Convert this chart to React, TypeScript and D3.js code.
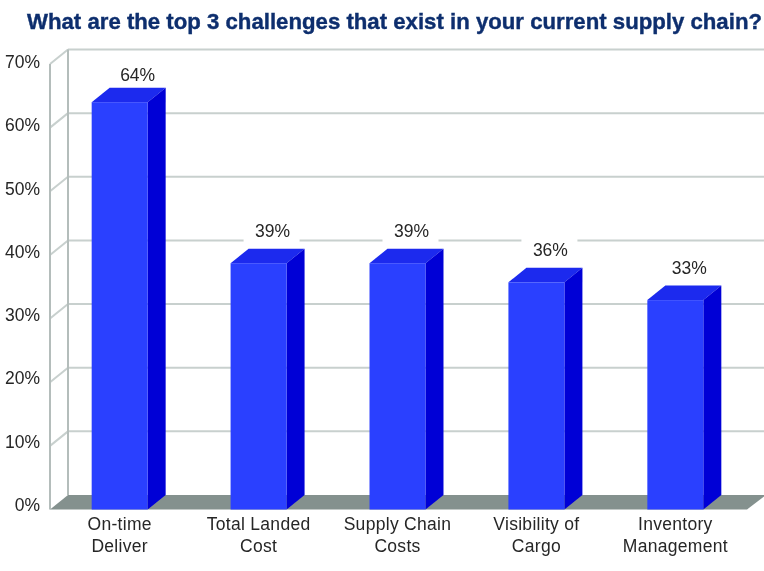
import { format, line, scaleBand, scaleLinear } from "d3";

const categories = [
  ["On-time", "Deliver"],
  ["Total Landed", "Cost"],
  ["Supply Chain", "Costs"],
  ["Visibility of", "Cargo"],
  ["Inventory", "Management"],
];
const values = [64, 38.7, 38.7, 35.7, 32.9];
const ticks = [0, 10, 20, 30, 40, 50, 60, 70];
const titleText = "What are the top 3 challenges that exist in your current supply chain?";

const width = 764;
const height = 571;
const depthX = 18;
const depthY = -14.5;
const font = "'Liberation Sans', Arial, sans-serif";
const textColor = "#262626";

export default function App() {
  const x = scaleBand<number>()
    .domain(values.map((_, i) => i))
    .range([50, 745])
    .paddingInner(0.597)
    .paddingOuter(0.3);
  const y = scaleLinear().domain([0, 70]).range([509.5, 64]);
  // the tick labels are spaced a little tighter than the gridlines
  const yLabel = scaleLinear().domain([0, 70]).range([505, 62]);
  const path = line();
  const fmt = format(".0f");

  const poly = (pts: [number, number][]) => path(pts) + "Z";
  const x0 = x.range()[0];
  const x1 = x.range()[1];
  const y0 = y(0);

  return (
    <svg
      width={width}
      height={height}
      viewBox={`0 0 ${width} ${height}`}
      style={{ position: "absolute", left: 0, top: 0, background: "#fff" }}
    >
      <defs>
        <filter id="soft" x="-5%" y="-5%" width="110%" height="110%">
          <feGaussianBlur stdDeviation="0.45" />
        </filter>
      </defs>
      <g filter="url(#soft)">
        {/* title is a condensed face in the original, so stretch it upward */}
        <text
          transform="translate(27,29) scale(1,1.12)"
          fontFamily={font}
          fontWeight="bold"
          fontSize={20.5}
          fill="#0c2f6e"
          stroke="#0c2f6e"
          strokeWidth={0.35}
          textLength={735}
          lengthAdjust="spacingAndGlyphs"
        >
          {titleText}
        </text>

        {/* floor */}
        <path
          d={poly([
            [x0, y0],
            [x0 + depthX, y0 + depthY],
            [x1 + depthX + 3, y0 + depthY],
            [x1 + 2, y0],
          ])}
          fill="#84918e"
        />

        {/* walls */}
        <g stroke="#c8d0ce" strokeWidth={2} fill="none">
          {ticks.slice(1).map((t) => (
            <g key={t}>
              <line x1={x0} x2={x0 + depthX} y1={y(t)} y2={y(t) + depthY} />
              <line x1={x0 + depthX} x2={width} y1={y(t) + depthY} y2={y(t) + depthY} />
            </g>
          ))}
          <line x1={x0} x2={x0} y1={y(70)} y2={y0} stroke="#b4bdbb" />
          <line x1={x0 + depthX} x2={x0 + depthX} y1={y(70) + depthY} y2={y0 + depthY} stroke="#b4bdbb" />
        </g>

        {/* y axis labels */}
        {ticks.map((t) => (
          <text
            key={t}
            x={40}
            y={yLabel(t)}
            dy={6}
            textAnchor="end"
            fontFamily={font}
            fontSize={17.5}
            fill={textColor}
          >
            {t}%
          </text>
        ))}

        {/* bars */}
        {values.map((v, i) => {
          const left = x(i) ?? 0;
          const right = left + x.bandwidth();
          const top = y(v);
          const cx = (left + right) / 2;
          const tall = v > 50;
          return (
            <g key={i}>
              {!tall && (
                <rect x={cx - 15} y={top + depthY - 29} width={56} height={24} fill="#fff" />
              )}
              <path
                d={poly([
                  [left, top],
                  [left + depthX, top + depthY],
                  [right + depthX, top + depthY],
                  [right, top],
                ])}
                fill="#1a29ee"
              />
              <path
                d={poly([
                  [right, top],
                  [right + depthX, top + depthY],
                  [right + depthX, y0 + depthY],
                  [right, y0],
                ])}
                fill="#0000d6"
              />
              <rect x={left} y={top} width={x.bandwidth()} height={y0 - top} fill="#2b3fff" />
              <text
                x={cx + (tall ? 18 : 14)}
                y={top + depthY + (tall ? -6.5 : -12)}
                textAnchor="middle"
                fontFamily={font}
                fontSize={17.5}
                fill={textColor}
              >
                {fmt(v)}%
              </text>
              {categories[i].map((part, j) => (
                <text
                  key={part}
                  x={cx}
                  y={y0 + 20 + j * 22.5}
                  textAnchor="middle"
                  fontFamily={font}
                  fontSize={17.5}
                  letterSpacing={0.3}
                  fill={textColor}
                >
                  {part}
                </text>
              ))}
            </g>
          );
        })}
      </g>
    </svg>
  );
}
